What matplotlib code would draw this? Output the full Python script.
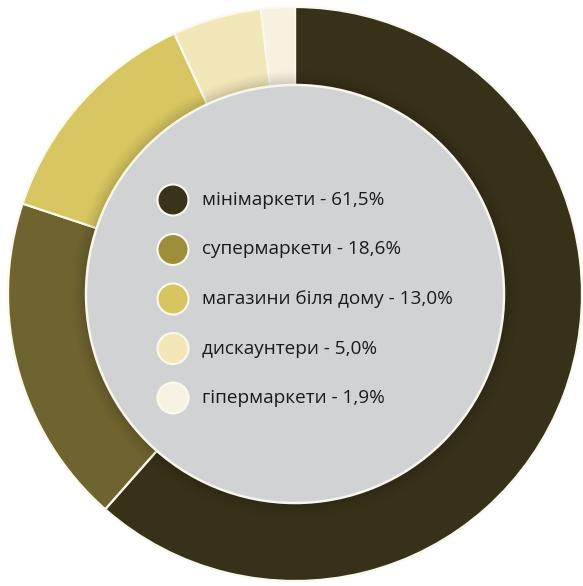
import matplotlib
matplotlib.use("Agg")
import matplotlib.pyplot as plt
from matplotlib.patches import Circle, Wedge

# Структура роздрібних мереж (частки, %)
categories = ["мінімаркети", "супермаркети", "магазини біля дому", "дискаунтери", "гіпермаркети"]
shares = [61.5, 18.6, 13.0, 5.0, 1.9]
labels = ["61,5%", "18,6%", "13,0%", "5,0%", "1,9%"]

ring_colors = ["#38311a", "#6f6430", "#d8c662", "#f2e7b9", "#f7f1e0"]
dot_colors = ["#3a3219", "#9d8e3c", "#d7c560", "#f3e7b8", "#f8f2e2"]

W, H = 583, 586
plt.rcParams['font.family'] = ['Open Sans', 'DejaVu Sans']

fig = plt.figure(figsize=(W / 100, H / 100), dpi=100)
ax = fig.add_axes([0, 0, 1, 1])

cx, cy = 295, H - 294
r_out, r_in = 287, 209

ax.pie(shares, colors=ring_colors, startangle=90, counterclock=False,
       radius=r_out, center=(cx, cy), frame=True,
       wedgeprops=dict(width=r_out - r_in + 2, edgecolor="#fbf8ec", linewidth=1.6))
ax.set_xlim(0, W)
ax.set_ylim(0, H)
ax.set_aspect("equal")
ax.axis("off")

# м'яка тінь навколо центрального кола
for i in range(16):
    ax.add_patch(Wedge((cx, cy), r_in + 1 + i, 0, 360, width=1.2,
                       facecolor="black", edgecolor="none",
                       alpha=0.14 * (1 - i / 16) ** 1.6, zorder=3))

ax.add_patch(Circle((cx, cy), r_in, facecolor="#d1d2d4",
                    edgecolor="#f8f5ea", linewidth=1.8, zorder=4))

# легенда всередині кола
y0, step = 200, 49.5
for i, (name, lab) in enumerate(zip(categories, labels)):
    y = H - (y0 + i * step)
    ax.add_patch(Circle((173, y), 15.5, facecolor=dot_colors[i],
                        edgecolor="#fbf8ec", linewidth=1.5, zorder=5))
    ax.text(202, y, f"{name} - {lab}", fontsize=13.7, color="#1b1b1b",
            va="center", ha="left", zorder=6)

fig.savefig("out.png", dpi=100, facecolor="white")
